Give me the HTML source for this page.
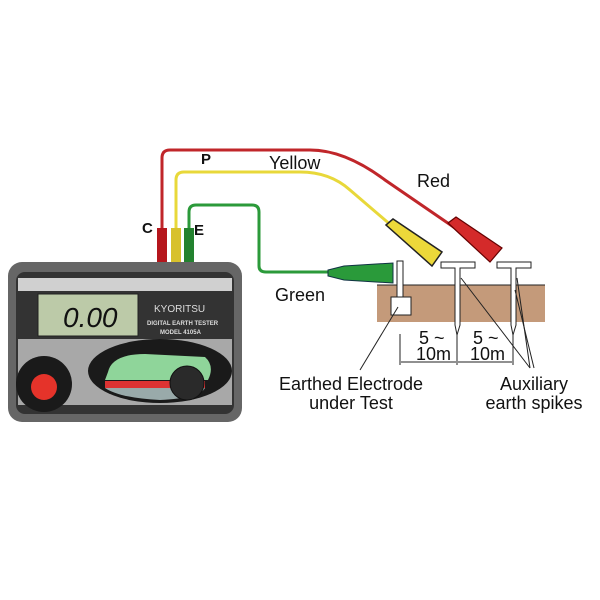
<!DOCTYPE html><html><head><style>body{margin:0;background:#fff}svg{display:block}text{font-family:"Liberation Sans",sans-serif}</style></head><body>
<svg width="600" height="600" viewBox="0 0 600 600">
<!-- wires -->
<path d="M162 255 V158 Q162 150 170 150 H310 Q345 150 385 180 L455 228" fill="none" stroke="#c0262a" stroke-width="3"/>
<path d="M176 255 V180 Q176 172 184 172 H300 Q330 172 350 190 L392 226" fill="none" stroke="#e8d83a" stroke-width="3"/>
<path d="M189 255 V212 Q189 205 196 205 H252 Q259 205 259 212 V266 Q259 272 266 272 H330" fill="none" stroke="#2b9a3a" stroke-width="3"/>
<!-- plugs -->
<polygon points="448,223 456,217 502,248 490,262" fill="#d42a2a" stroke="#600" stroke-width="1.2"/>
<polygon points="386,225 393,219 442,252 432,266" fill="#ecd83a" stroke="#222" stroke-width="1.5"/>
<polygon points="328,270 344,266 393,263 393,283 344,280 328,276" fill="#2a9a3a" stroke="#134" stroke-width="1"/>
<!-- terminals -->
<rect x="157" y="228" width="10" height="38" fill="#b5161c"/>
<rect x="171" y="228" width="10" height="38" fill="#d8c12c"/>
<rect x="184" y="228" width="10" height="38" fill="#23822f"/>
<!-- soil -->
<rect x="377" y="285" width="168" height="37" fill="#c49a7a"/>
<line x1="377" y1="285" x2="545" y2="285" stroke="#222"/>
<!-- electrode -->
<rect x="397" y="261" width="6" height="38" fill="#fff" stroke="#222"/>
<rect x="391" y="297" width="20" height="18" fill="#fff" stroke="#222"/>
<!-- spikes -->
<path d="M441 262 H475 V268 H460 V325 L457 335 L455 325 V268 H441 Z" fill="#fff" stroke="#222"/>
<path d="M497 262 H531 V268 H516 V325 L513 335 L511 325 V268 H497 Z" fill="#fff" stroke="#222"/>
<!-- dimensions -->
<g stroke="#222" stroke-width="1"><line x1="400" y1="334" x2="400" y2="365"/><line x1="457" y1="335" x2="457" y2="365"/><line x1="513" y1="335" x2="513" y2="365"/>
<line x1="401" y1="362" x2="456" y2="362"/><line x1="458" y1="362" x2="512" y2="362"/>
<line x1="398" y1="307" x2="360" y2="370"/><line x1="461" y1="278" x2="530" y2="368"/><line x1="517" y1="278" x2="530" y2="368"/><line x1="515" y1="290" x2="534" y2="368"/></g>
<g font-size="18" fill="#111">
<text x="419" y="344">5 ~</text><text x="416" y="360">10m</text>
<text x="473" y="344">5 ~</text><text x="470" y="360">10m</text>
<text x="351" y="390" text-anchor="middle">Earthed Electrode</text>
<text x="351" y="409" text-anchor="middle">under Test</text>
<text x="534" y="390" text-anchor="middle">Auxiliary</text>
<text x="534" y="409" text-anchor="middle">earth spikes</text>
<text x="269" y="169">Yellow</text><text x="417" y="187">Red</text><text x="275" y="301">Green</text></g>
<g font-size="15" font-weight="bold" fill="#111"><text x="201" y="164">P</text><text x="142" y="233">C</text><text x="194" y="235">E</text></g>
<!-- meter -->
<rect x="8" y="262" width="234" height="160" rx="14" fill="#666"/>
<rect x="16" y="272" width="218" height="142" rx="9" fill="#333"/>
<rect x="18" y="278" width="214" height="13" fill="#d0d0d0"/>
<rect x="38" y="294" width="100" height="42" fill="#bccaa8" stroke="#222"/>
<text x="63" y="327" font-size="28" fill="#111" font-style="italic">0.00</text>
<text x="154" y="312" font-size="10" fill="#ddd">KYORITSU</text>
<text x="147" y="325" font-size="6" fill="#ddd" font-weight="bold">DIGITAL EARTH TESTER</text>
<text x="160" y="334" font-size="6" fill="#ddd" font-weight="bold">MODEL 4105A</text>
<rect x="18" y="339" width="214" height="66" fill="#a8a8a8"/>
<ellipse cx="160" cy="371" rx="72" ry="32" fill="#1a1a1a"/>
<path d="M108 372 Q112 354 145 354 L205 357 Q215 366 208 380 L105 380 Z" fill="#8fd59a"/>
<rect x="105" y="381" width="100" height="7" fill="#d33"/>
<path d="M105 388 H205 Q200 398 160 400 Q120 398 105 388 Z" fill="#9aa"/>
<circle cx="187" cy="383" r="17" fill="#2a2a2a" stroke="#111"/>
<circle cx="44" cy="384" r="28" fill="#1a1a1a"/>
<circle cx="44" cy="387" r="13" fill="#e5332a"/>
</svg></body></html>
